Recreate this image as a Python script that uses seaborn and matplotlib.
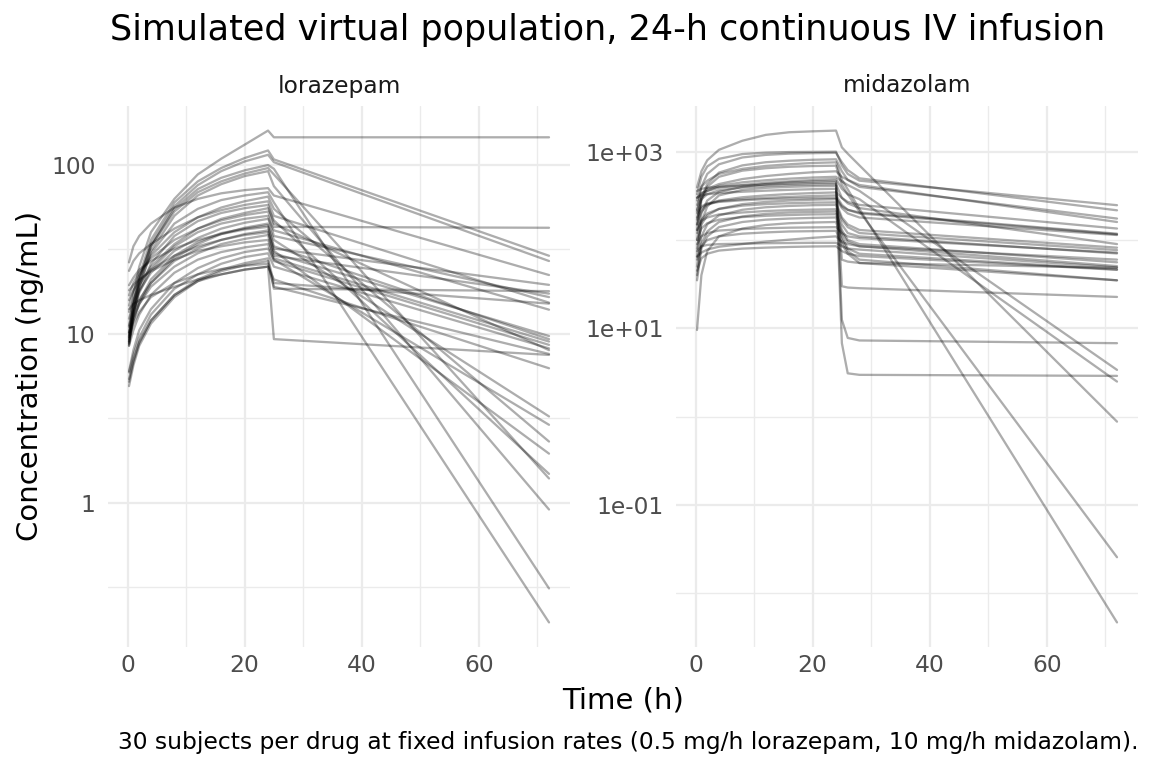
import numpy as np
import pandas as pd
import matplotlib
matplotlib.use("Agg")
import matplotlib.pyplot as plt
import seaborn as sns
from matplotlib.ticker import FixedLocator, FixedFormatter, NullFormatter

# ---------------- data ----------------
drugs = ["lorazepam", "midazolam"]

lorazepam_times = [0.25, 1, 2, 4, 8, 12, 16, 20, 24, 25, 72]
lorazepam_conc = [
    [11, 17, 25, 40, 63, 88, 109, 132, 160, 146, 146],
    [10, 15, 22, 36, 60, 80, 96, 110, 122, 108, 29],
    [9.5, 14.5, 21, 34, 57, 76, 92, 105, 115, 104, 27],
    [9, 14, 20, 33, 55, 72, 84, 93, 100, 95, 0.31],
    [10.2, 15, 21, 33, 53, 69, 80, 89, 96, 88, 1.39],
    [8.8, 13, 19, 31, 50, 66, 77, 86, 92, 75, 0.91],
    [26.5, 33, 38, 45, 56, 63, 68, 71, 73, 66, 22.3],
    [8.5, 13, 19, 30, 45, 55, 62, 66, 69, 60, 0.195],
    [14.7, 18, 22, 29, 40, 49, 56, 61, 65, 55, 2.30],
    [23.6, 27, 30, 34, 42, 49, 54, 58, 61, 50, 15.3],
    [13.5, 16, 19.5, 25, 34, 42, 48, 52, 55.5, 47, 1.48],
    [16.9, 20, 23, 28, 36, 42, 47, 50.5, 53, 43, 42.5],
    [12.3, 15, 18, 23, 31, 37, 42, 45.5, 48, 41, 13.9],
    [9.3, 12, 15, 20, 28, 34, 39, 42.5, 45, 36, 3.24],
    [19.4, 21.5, 24, 27, 32, 36, 39, 41.5, 43, 32, 19.5],
    [11.2, 13.5, 16, 20, 27, 32, 36, 39, 41, 30, 9.7],
    [10.2, 12.5, 15, 19, 25, 30, 34, 36.5, 38.5, 28, 9.0],
    [15.8, 18, 20.5, 24, 29, 33, 36, 38.5, 40, 31, 1.95],
    [18.1, 19.5, 21, 23.5, 27.5, 31, 33, 34.8, 36, 29, 17.3],
    [8.5, 10.5, 13, 17, 23, 27.5, 30.5, 32.5, 34, 27, 8.6],
    [6.0, 8, 10.5, 14, 20, 24.5, 28, 30.5, 32, 27.5, 2.89],
    [5.9, 7.5, 9.5, 13, 18.5, 22.5, 26, 28.5, 30, 25, 8.2],
    [5.4, 7, 9, 12, 17, 21, 24, 26.2, 28, 20, 15.1],
    [4.9, 6.5, 8.5, 11.5, 16.5, 20.5, 23.5, 25.5, 27, 18.5, 17.9],
    [14, 15, 15.8, 17, 19, 21, 22.5, 24, 25, 9.3, 7.5],
    [5.2, 6.8, 8.8, 12, 17, 20.5, 22.5, 24, 25, 21, 6.25],
    [9.8, 11.5, 13.5, 16.5, 20, 22.5, 24.2, 25.3, 26, 19, 7.6],
    [8.7, 12, 15.5, 21, 29, 35, 39.5, 42, 44, 33, 9.3],
    [9.6, 13.5, 17.5, 24, 33, 40, 45, 48, 50, 38, 16.5],
    [9.0, 13, 18, 26, 38, 46.5, 52, 55.5, 58, 45, 8.0],
]

midazolam_times = [0.25, 1, 2, 4, 8, 12, 16, 20, 24, 25, 26, 28, 72]
midazolam_conc = [
    [394, 600, 800, 1050, 1330, 1550, 1660, 1700, 1733, 1120, 950, 700, 0.88],
    [330, 520, 680, 830, 940, 975, 990, 995, 1000, 700, 560, 470, 248],
    [210, 400, 560, 720, 860, 920, 950, 962, 970, 760, 620, 500, 217],
    [150, 300, 430, 580, 700, 760, 790, 810, 820, 600, 480, 400, 175],
    [280, 400, 470, 560, 640, 690, 720, 745, 758, 480, 375, 225, 0.0047],
    [130, 280, 400, 520, 610, 650, 675, 688, 694, 420, 330, 210, 0.0257],
    [250, 330, 380, 430, 490, 530, 560, 585, 600, 520, 480, 420, 160],
    [170, 300, 360, 410, 450, 475, 495, 510, 520, 460, 420, 360, 3.39],
    [300, 340, 360, 390, 420, 445, 462, 478, 490, 380, 330, 290, 2.5],
    [100, 200, 280, 350, 400, 430, 450, 460, 468, 30, 29, 28.5, 22.7],
    [360, 380, 390, 400, 415, 425, 435, 443, 449, 12.5, 7.8, 7.3, 6.8],
    [65, 160, 240, 320, 370, 390, 400, 407, 411, 6.8, 3.1, 2.98, 2.9],
    [303, 320, 330, 340, 352, 362, 370, 376, 380, 60, 57, 55, 48.5],
    [150, 210, 250, 280, 305, 320, 332, 340, 346, 300, 270, 250, 135],
    [200, 240, 260, 275, 290, 300, 308, 315, 320, 250, 220, 200, 116],
    [80, 150, 190, 225, 255, 270, 280, 286, 290, 230, 200, 180, 114],
    [120, 170, 200, 225, 245, 255, 261, 265, 267, 180, 150, 130, 82],
    [50, 110, 150, 190, 220, 235, 243, 248, 250, 170, 140, 120, 77],
    [130, 165, 180, 195, 205, 213, 218, 221, 223, 150, 120, 110, 70.5],
    [40, 90, 125, 160, 185, 198, 205, 208, 210, 130, 100, 90, 56],
    [100, 135, 155, 170, 182, 188, 192, 195, 196, 120, 95, 85, 50.7],
    [35, 80, 110, 140, 160, 170, 175, 178, 180, 110, 80, 70, 46.4],
    [9.6, 40, 75, 110, 135, 148, 155, 158, 160, 100, 75, 60, 35],
    [90, 110, 120, 128, 133, 136, 138, 139, 140, 120, 110, 105, 72],
    [60, 85, 100, 110, 118, 122, 125, 126, 127, 90, 70, 55, 35],
    [65, 72, 78, 84, 90, 96, 101, 106, 110, 95, 90, 85, 60],
    [75, 85, 88, 90, 91, 92, 92.5, 93, 93, 85, 80, 78, 49],
    [45, 62, 70, 76, 80, 82, 83.5, 84.5, 85, 75, 70, 66, 46],
    [180, 230, 255, 270, 282, 290, 295, 298, 300, 240, 220, 205, 118],
    [220, 290, 330, 365, 395, 410, 420, 426, 430, 300, 260, 230, 90],
]

lorazepam_yticks = [1, 10, 100]
lorazepam_ylabels = ["1", "10", "100"]
midazolam_yticks = [0.1, 10, 1000]
midazolam_ylabels = ["1e-01", "1e+01", "1e+03"]
x_ticks = [0, 20, 40, 60]
x_minor = [10, 30, 50, 70]

title = "Simulated virtual population, 24-h continuous IV infusion"
x_label = "Time (h)"
y_label = "Concentration (ng/mL)"
caption = "30 subjects per drug at fixed infusion rates (0.5 mg/h lorazepam, 10 mg/h midazolam)."

# ---------------- build long table ----------------
rows = []
for drug, times, conc in [("lorazepam", lorazepam_times, lorazepam_conc),
                          ("midazolam", midazolam_times, midazolam_conc)]:
    for sid, series in enumerate(conc, start=1):
        for t, c in zip(times, series):
            rows.append({"drug": drug, "subject": sid, "time": t, "conc": c})
df = pd.DataFrame(rows)

# ---------------- figure ----------------
sns.set_style("white")
plt.rcParams["font.family"] = ["DejaVu Sans"]

W, H = 1152, 768
fig = plt.figure(figsize=(W / 100, H / 100), dpi=100)


def rect(l, t, r, b):
    return [l / W, 1 - b / H, (r - l) / W, (b - t) / H]


axL = fig.add_axes(rect(108, 106, 570, 647))
axR = fig.add_axes(rect(676, 106, 1138, 647))

GRID = "#EBEBEB"
TICKC = "#4D4D4D"
SMALL = 16.8

for ax, drug, yt, yl in [(axL, "lorazepam", lorazepam_yticks, lorazepam_ylabels),
                         (axR, "midazolam", midazolam_yticks, midazolam_ylabels)]:
    sub = df[df["drug"] == drug]
    sns.lineplot(data=sub, x="time", y="conc", units="subject", estimator=None,
                 color="black", alpha=0.32, linewidth=1.65, ax=ax, legend=False)
    ax.set_yscale("log")
    # ggplot-like 5% expansion
    lo, hi = np.log10(sub["conc"].min()), np.log10(sub["conc"].max())
    pad = 0.05 * (hi - lo)
    ax.set_ylim(10 ** (lo - pad), 10 ** (hi + pad))
    tlo, thi = sub["time"].min(), sub["time"].max()
    tpad = 0.05 * (thi - tlo)
    ax.set_xlim(tlo - tpad, thi + tpad)

    ax.yaxis.set_major_locator(FixedLocator(yt))
    ax.yaxis.set_major_formatter(FixedFormatter(yl))
    minor = [np.sqrt(yt[i] * yt[i + 1]) for i in range(len(yt) - 1)]
    minor = [yt[0] / np.sqrt(yt[1] / yt[0])] + minor + [yt[-1] * np.sqrt(yt[1] / yt[0])]
    ax.yaxis.set_minor_locator(FixedLocator(minor))
    ax.yaxis.set_minor_formatter(NullFormatter())
    ax.xaxis.set_major_locator(FixedLocator(x_ticks))
    ax.xaxis.set_minor_locator(FixedLocator(x_minor))
    ax.xaxis.set_minor_formatter(NullFormatter())

    ax.grid(which="major", color=GRID, linewidth=1.6)
    ax.grid(which="minor", color=GRID, linewidth=1.0)
    ax.set_axisbelow(True)
    for s in ax.spines.values():
        s.set_visible(False)
    ax.tick_params(axis="both", which="both", length=0, labelsize=SMALL, labelcolor=TICKC)
    ax.tick_params(axis="y", pad=9)
    ax.tick_params(axis="x", pad=5)
    ax.set_xlabel("")
    ax.set_ylabel("")
    ax.set_facecolor("white")

fig.text(339 / W, 1 - 86 / H, "lorazepam", ha="center", va="center", fontsize=SMALL, color="#1A1A1A")
fig.text(907 / W, 1 - 86 / H, "midazolam", ha="center", va="center", fontsize=SMALL, color="#1A1A1A")
fig.text(608 / W, 1 - 30 / H, title, ha="center", va="center", fontsize=25.2, color="black")
fig.text(623 / W, 1 - 701 / H, x_label, ha="center", va="center", fontsize=21, color="black")
fig.text(30 / W, 1 - 376 / H, y_label, ha="center", va="center", rotation=90, fontsize=21, color="black")
fig.text(1138 / W, 1 - 742 / H, caption, ha="right", va="center", fontsize=SMALL, color="black")

fig.savefig("out.png", dpi=100, facecolor="white")
